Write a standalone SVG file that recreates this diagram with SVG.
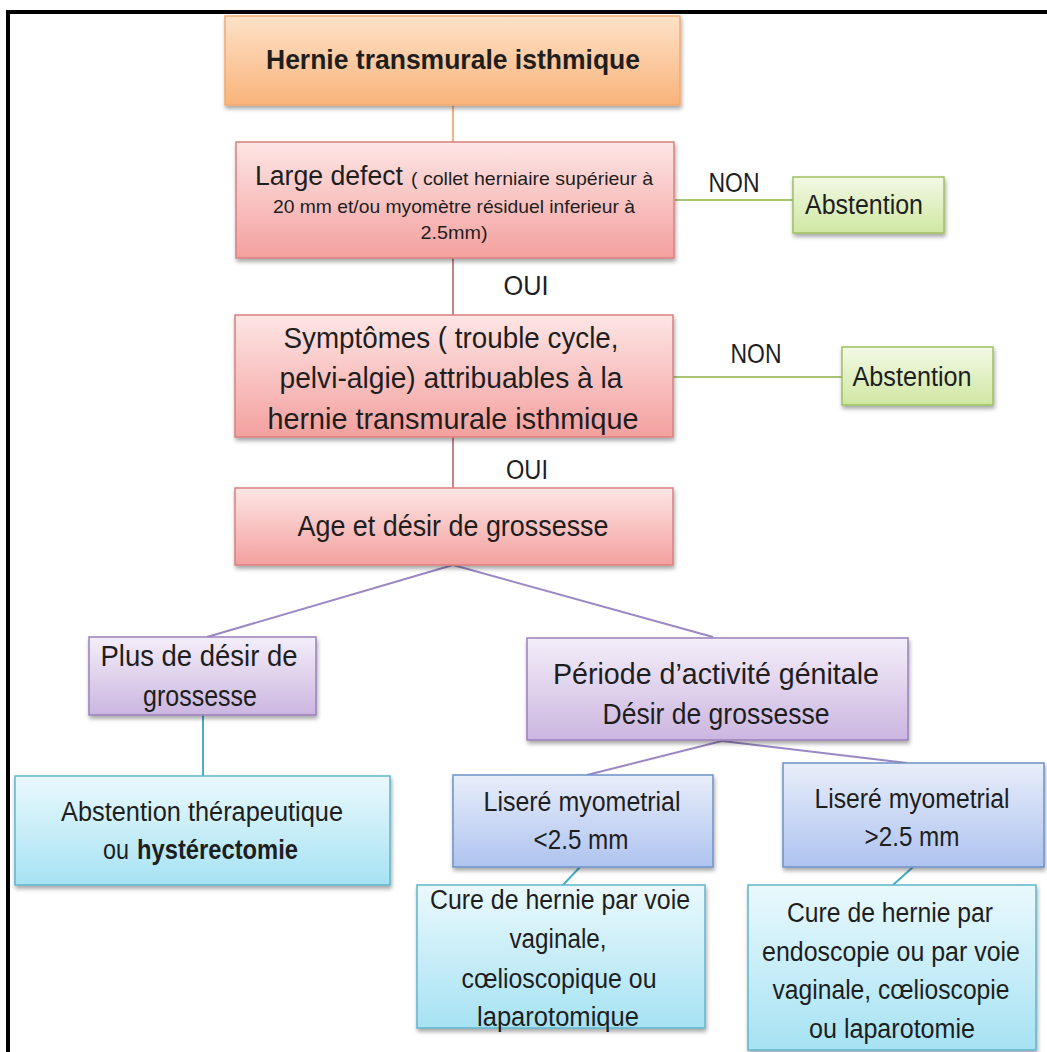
<svg xmlns="http://www.w3.org/2000/svg" width="1047" height="1052" viewBox="0 0 1047 1052">
<style>
text{font-family:"Liberation Sans",Arial,sans-serif;fill:#1e1e1e;font-size:27px;text-anchor:middle}
.s{font-size:19px}
.st{text-anchor:start}
.b{font-weight:bold}
.m{font-size:30px}
.box{filter:url(#sh);stroke-width:1.5}
.c{fill:none;stroke-width:2}
</style>
<defs>
<filter id="sh" x="-10%" y="-10%" width="120%" height="130%"><feDropShadow dx="1" dy="3" stdDeviation="2" flood-color="#000" flood-opacity="0.35"/></filter>
<linearGradient id="gO" x1="0" y1="0" x2="0" y2="1"><stop offset="0" stop-color="#fde2c8"/><stop offset="1" stop-color="#f9b37a"/></linearGradient>
<linearGradient id="gR" x1="0" y1="0" x2="0" y2="1"><stop offset="0" stop-color="#fde6e5"/><stop offset="1" stop-color="#f3a09e"/></linearGradient>
<linearGradient id="gG" x1="0" y1="0" x2="0" y2="1"><stop offset="0" stop-color="#f3f9e6"/><stop offset="1" stop-color="#cfe7a2"/></linearGradient>
<linearGradient id="gP" x1="0" y1="0" x2="0" y2="1"><stop offset="0" stop-color="#f4eef9"/><stop offset="1" stop-color="#cbb6e0"/></linearGradient>
<linearGradient id="gB" x1="0" y1="0" x2="0" y2="1"><stop offset="0" stop-color="#e8eefa"/><stop offset="1" stop-color="#aec3ef"/></linearGradient>
<linearGradient id="gC" x1="0" y1="0" x2="0" y2="1"><stop offset="0" stop-color="#eaf9fd"/><stop offset="1" stop-color="#a6e2f3"/></linearGradient>
</defs>
<rect x="0" y="0" width="1047" height="1052" fill="#fff"/>
<g id="frame"><path d="M8,1052 V12 H1047" fill="none" stroke="#000" stroke-width="4"/></g>
<g id="connectors">
<line class="c" x1="453" y1="105" x2="453" y2="142" stroke="#f5b487"/>
<line class="c" x1="453" y1="258" x2="453" y2="315" stroke="#c98584"/>
<line class="c" x1="453" y1="437" x2="453" y2="488" stroke="#c98584"/>
<line class="c" x1="675" y1="200" x2="793" y2="200" stroke="#a8c474"/>
<line class="c" x1="673" y1="377" x2="842" y2="377" stroke="#a8c474"/>
<line class="c" x1="453" y1="565" x2="207" y2="637" stroke="#9a88c4"/>
<line class="c" x1="453" y1="565" x2="713" y2="637" stroke="#9a88c4"/>
<line class="c" x1="203" y1="715" x2="203" y2="776" stroke="#4bacc6"/>
<line class="c" x1="722" y1="741" x2="587" y2="775" stroke="#9a88c4"/>
<line class="c" x1="722" y1="741" x2="907" y2="763" stroke="#9a88c4"/>
<line class="c" x1="580" y1="867" x2="563" y2="885" stroke="#4bacc6"/>
<line class="c" x1="913" y1="867" x2="893" y2="885" stroke="#4bacc6"/>
</g>
<g id="n-hernie"><rect class="box" x="225" y="16" width="455" height="89" fill="url(#gO)" stroke="#f2aa72"/><text class="b" x="453" y="69" font-size="29" textLength="374" lengthAdjust="spacingAndGlyphs">Hernie transmurale isthmique</text></g>
<g id="n-large"><rect class="box" x="236" y="142" width="438" height="116" fill="url(#gR)" stroke="#d9807e"/>
<text class="st" x="255" y="185" font-size="31" textLength="148" lengthAdjust="spacingAndGlyphs">Large defect</text>
<text class="s st" x="411" y="185" textLength="242" lengthAdjust="spacingAndGlyphs">( collet herniaire supérieur à</text>
<text class="s" x="454" y="213" textLength="362" lengthAdjust="spacingAndGlyphs">20 mm et/ou myomètre résiduel inferieur à</text>
<text class="s" x="454" y="239" textLength="67" lengthAdjust="spacingAndGlyphs">2.5mm)</text></g>
<g id="l-non1"><text x="734" y="192" font-size="26" textLength="51" lengthAdjust="spacingAndGlyphs">NON</text></g>
<g id="n-abst1"><rect class="box" x="793" y="177" width="151" height="56" fill="url(#gG)" stroke="#9fc05f"/><text x="864" y="214" textLength="118" lengthAdjust="spacingAndGlyphs">Abstention</text></g>
<g id="l-oui1"><text x="526" y="295" font-size="26" textLength="45" lengthAdjust="spacingAndGlyphs">OUI</text></g>
<g id="n-sympt"><rect class="box" x="235" y="315" width="438" height="122" fill="url(#gR)" stroke="#d9807e"/>
<text class="m" x="451" y="348" textLength="335" lengthAdjust="spacingAndGlyphs">Symptômes ( trouble cycle,</text>
<text class="m" x="451" y="388" textLength="343" lengthAdjust="spacingAndGlyphs">pelvi-algie) attribuables à la</text>
<text class="m" x="453" y="429" textLength="371" lengthAdjust="spacingAndGlyphs">hernie transmurale isthmique</text></g>
<g id="l-non2"><text x="756" y="363" font-size="26" textLength="51" lengthAdjust="spacingAndGlyphs">NON</text></g>
<g id="n-abst2"><rect class="box" x="842" y="347" width="151" height="58" fill="url(#gG)" stroke="#9fc05f"/><text x="912" y="386" textLength="119" lengthAdjust="spacingAndGlyphs">Abstention</text></g>
<g id="l-oui2"><text x="527" y="479" font-size="26" textLength="42" lengthAdjust="spacingAndGlyphs">OUI</text></g>
<g id="n-age"><rect class="box" x="235" y="488" width="438" height="77" fill="url(#gR)" stroke="#d9807e"/><text class="m" x="453" y="536" textLength="311" lengthAdjust="spacingAndGlyphs">Age et désir de grossesse</text></g>
<g id="n-plus"><rect class="box" x="89" y="637" width="227" height="78" fill="url(#gP)" stroke="#9a80bb"/>
<text class="m" x="199" y="666" textLength="197" lengthAdjust="spacingAndGlyphs">Plus de désir de</text>
<text class="m" x="200" y="706" textLength="114" lengthAdjust="spacingAndGlyphs">grossesse</text></g>
<g id="n-periode"><rect class="box" x="527" y="638" width="381" height="102" fill="url(#gP)" stroke="#9a80bb"/>
<text class="m" x="716" y="684" textLength="326" lengthAdjust="spacingAndGlyphs">Période d’activité génitale</text>
<text class="m" x="716" y="724" textLength="227" lengthAdjust="spacingAndGlyphs">Désir de grossesse</text></g>
<g id="n-abstther"><rect class="box" x="15" y="776" width="375" height="109" fill="url(#gC)" stroke="#5fb5cc"/>
<text x="202" y="821" textLength="282" lengthAdjust="spacingAndGlyphs">Abstention thérapeutique</text>
<text class="st" x="103" y="859" textLength="26" lengthAdjust="spacingAndGlyphs">ou</text>
<text class="st b" x="137" y="859" font-size="26" textLength="161" lengthAdjust="spacingAndGlyphs">hystérectomie</text></g>
<g id="n-lis1"><rect class="box" x="453" y="775" width="260" height="92" fill="url(#gB)" stroke="#6e92c8"/>
<text x="582" y="811" textLength="197" lengthAdjust="spacingAndGlyphs">Liseré myometrial</text>
<text x="581" y="849" textLength="95" lengthAdjust="spacingAndGlyphs">&lt;2.5 mm</text></g>
<g id="n-lis2"><rect class="box" x="783" y="763" width="261" height="104" fill="url(#gB)" stroke="#6e92c8"/>
<text x="912" y="808" textLength="195" lengthAdjust="spacingAndGlyphs">Liseré myometrial</text>
<text x="912" y="846" textLength="95" lengthAdjust="spacingAndGlyphs">&gt;2.5 mm</text></g>
<g id="n-cure1"><rect class="box" x="417" y="885" width="288" height="143" fill="url(#gC)" stroke="#5fb5cc"/>
<text x="560" y="909" textLength="260" lengthAdjust="spacingAndGlyphs">Cure de hernie par voie</text>
<text x="558" y="948" textLength="97" lengthAdjust="spacingAndGlyphs">vaginale,</text>
<text x="559" y="988" textLength="195" lengthAdjust="spacingAndGlyphs">cœlioscopique ou</text>
<text x="558" y="1026" textLength="162" lengthAdjust="spacingAndGlyphs">laparotomique</text></g>
<g id="n-cure2"><rect class="box" x="748" y="885" width="288" height="165" fill="url(#gC)" stroke="#5fb5cc"/>
<text x="890" y="922" textLength="206" lengthAdjust="spacingAndGlyphs">Cure de hernie par</text>
<text x="891" y="961" font-size="25" textLength="258" lengthAdjust="spacingAndGlyphs">endoscopie ou par voie</text>
<text x="891" y="999" textLength="237" lengthAdjust="spacingAndGlyphs">vaginale, cœlioscopie</text>
<text x="892" y="1038" textLength="166" lengthAdjust="spacingAndGlyphs">ou laparotomie</text></g>
</svg>
